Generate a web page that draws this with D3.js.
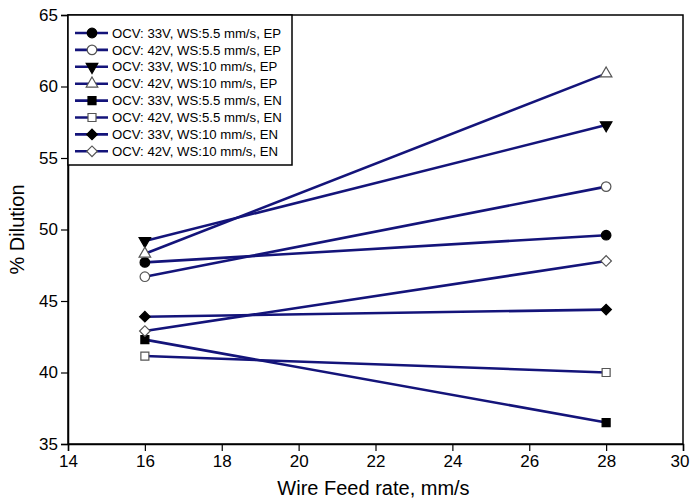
<!DOCTYPE html>
<html><head><meta charset="utf-8">
<script src="https://cdn.jsdelivr.net/npm/d3@7"></script>
<style>body{margin:0;background:#fff}svg{display:block}text{font-family:"Liberation Sans",Arial,sans-serif}</style>
</head><body><svg id="c" width="691" height="502"></svg>
<script>
const xValues = [16, 28];
const seriesNames = [
  "OCV: 33V, WS:5.5 mm/s, EP",
  "OCV: 42V, WS:5.5 mm/s, EP",
  "OCV: 33V, WS:10 mm/s, EP",
  "OCV: 42V, WS:10 mm/s, EP",
  "OCV: 33V, WS:5.5 mm/s, EN",
  "OCV: 42V, WS:5.5 mm/s, EN",
  "OCV: 33V, WS:10 mm/s, EN",
  "OCV: 42V, WS:10 mm/s, EN"
];
const s1 = [47.7, 49.6];
const s2 = [46.7, 53.0];
const s3 = [49.2, 57.3];
const s4 = [48.3, 60.9];
const s5 = [42.3, 36.5];
const s6 = [41.15, 40.0];
const s7 = [43.9, 44.4];
const s8 = [42.9, 47.8];
const seriesValues = [s1, s2, s3, s4, s5, s6, s7, s8];
const markerShapes = ["circle","circle","triangleDown","triangleUp","square","square","diamond","diamond"];
const markerFilled = [true,false,true,false,true,false,true,false];
const xTicks = [14,16,18,20,22,24,26,28,30];
const yTicks = [35,40,45,50,55,60,65];

const svg = d3.select("#c");
const L = 68, R = 683, T = 15, B = 444;
const x = d3.scaleLinear().domain([14,30]).range([L,R]);
const y = d3.scaleLinear().domain([35,65]).range([B,T]);
const lineColor = "#14147a";

function symPath(shape){
  const map = {circle:[d3.symbolCircle,72], triangleDown:[d3.symbolTriangle,58], triangleUp:[d3.symbolTriangle,58], square:[d3.symbolSquare,64], diamond:[d3.symbolSquare,56]};
  const m = map[shape];
  return d3.symbol().type(m[0]).size(m[1])();
}
function drawMarker(g, shape, filled, cx, cy){
  let rot = "";
  if (shape==="triangleDown") rot = " rotate(180)";
  if (shape==="diamond") rot = " rotate(45)";
  g.append("path").attr("d", symPath(shape))
   .attr("transform", `translate(${cx},${cy})` + rot)
   .attr("fill", filled ? "#000" : "#fff")
   .attr("stroke", filled ? "#000" : "#555")
   .attr("stroke-width", 1.2);
}

// frame
svg.append("rect").attr("x",L).attr("y",T).attr("width",R-L).attr("height",B-T)
  .attr("fill","none").attr("stroke","#000").attr("stroke-width",1.5);

// axes
const xAxis = svg.append("g").attr("transform",`translate(0,${B})`)
  .call(d3.axisBottom(x).tickValues(xTicks).tickSize(7).tickPadding(4).tickFormat(d3.format("d")));
const yAxis = svg.append("g").attr("transform",`translate(${L},0)`)
  .call(d3.axisLeft(y).tickValues(yTicks).tickSize(7).tickPadding(3).tickFormat(d3.format("d")));
[xAxis,yAxis].forEach(a=>{
  a.select(".domain").attr("stroke","#000").attr("stroke-width",1.5);
  a.selectAll(".tick line").attr("stroke","#000").attr("stroke-width",1.2);
  a.selectAll(".tick text").attr("fill","#000").style("font-size","17px").style("font-family","Liberation Sans, Arial, sans-serif");
});
xAxis.selectAll(".tick text").filter(d=>d===30).attr("text-anchor","end").attr("dx","6");

// lines & markers
const line = d3.line().x((d,i)=>x(xValues[i])).y(d=>y(d));
const plot = svg.append("g");
seriesValues.forEach((vals,k)=>{
  plot.append("path").attr("d", line(vals)).attr("fill","none")
    .attr("stroke", lineColor).attr("stroke-width", 2.6);
});
seriesValues.forEach((vals,k)=>{
  vals.forEach((v,i)=> drawMarker(plot, markerShapes[k], markerFilled[k], x(xValues[i]), y(v)));
});

// legend
const lg = svg.append("g");
lg.append("rect").attr("x",L).attr("y",T).attr("width",224).attr("height",150)
  .attr("fill","#fff").attr("stroke","#000").attr("stroke-width",1.5);
seriesNames.forEach((name,k)=>{
  const yy = 33 + k*16.9;
  lg.append("line").attr("x1",75).attr("x2",108).attr("y1",yy).attr("y2",yy)
    .attr("stroke",lineColor).attr("stroke-width",2.6);
  drawMarker(lg, markerShapes[k], markerFilled[k], 92, yy);
  lg.append("text").attr("x",112).attr("y",yy+4.6).text(name)
    .style("font-size","13.2px").attr("fill","#000");
});

// axis titles
svg.append("text").attr("x",(L+R)/2 - 2).attr("y",495).attr("text-anchor","middle")
  .style("font-size","20px").text("Wire Feed rate, mm/s");
svg.append("text").attr("transform",`translate(24,${(T+B)/2}) rotate(-90)`).attr("text-anchor","middle")
  .style("font-size","20px").text("% Dilution");
</script></body></html>
